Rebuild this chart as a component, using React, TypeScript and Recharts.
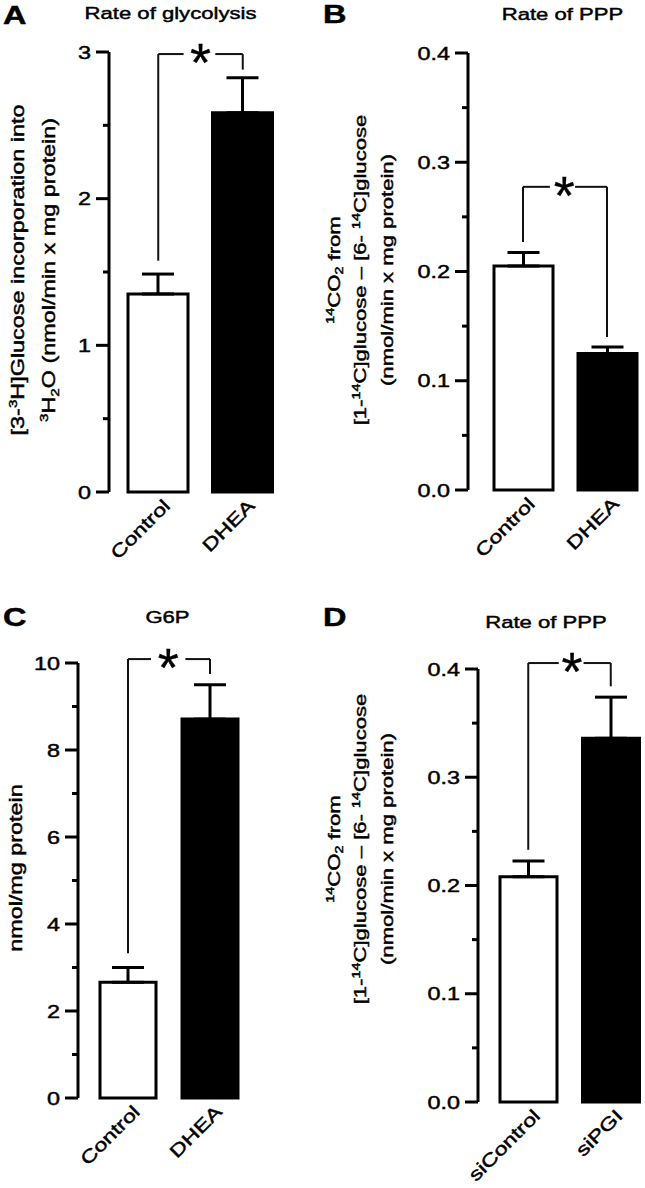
import React from "react";
import {
  BarChart,
  Bar,
  XAxis,
  YAxis,
  ErrorBar,
  Cell,
  ReferenceLine,
  ReferenceDot,
} from "recharts";

const FONT = '"Liberation Sans", Arial, Helvetica, sans-serif';
// the lettering in the figure is drawn wide, so every label is stretched along its line
const STRETCH = 1.3;

// A: rate of glycolysis
const groupsA = ["Control", "DHEA"];
const meansA = [1.35, 2.585];
const semA = [0.136, 0.24];
const majorsA = [0, 1, 2, 3];
const majorLabelsA = ["0", "1", "2", "3"];
const minorsA = [0.5, 1.5, 2.5];
const bracketA = [1.577, 2.986, 2.88]; // left foot, top, right foot
const gapA = [0.8, 1.175];
const starA = 1.0;

// B: rate of PPP (DHEA)
const groupsB = ["Control", "DHEA"];
const meansB = [0.205, 0.125];
const semB = [0.0125, 0.006];
const majorsB = [0, 0.1, 0.2, 0.3, 0.4];
const majorLabelsB = ["0.0", "0.1", "0.2", "0.3", "0.4"];
const minorsB = [0.05, 0.15, 0.25, 0.35];
const bracketB = [0.227, 0.2775, 0.14];
const gapB = [0.82, 1.12];
const starB = 0.99;

// C: G6P
const groupsC = ["Control", "DHEA"];
const meansC = [2.66, 8.71];
const semC = [0.34, 0.79];
const majorsC = [0, 2, 4, 6, 8, 10];
const majorLabelsC = ["0", "2", "4", "6", "8", "10"];
const minorsC = [1, 3, 5, 7, 9];
const bracketC = [3.33, 10.09, 9.75];
const gapC = [0.78, 1.2];
const starC = 0.99;

// D: rate of PPP (siRNA)
const groupsD = ["siControl", "siPGI"];
const meansD = [0.208, 0.336];
const semD = [0.0147, 0.038];
const majorsD = [0, 0.1, 0.2, 0.3, 0.4];
const majorLabelsD = ["0.0", "0.1", "0.2", "0.3", "0.4"];
const minorsD = [0.05, 0.15, 0.25, 0.35];
const bracketD = [0.233, 0.4055, 0.384];
const gapD = [0.87, 1.17];
const starD = 1.03;

const barFills = ["#ffffff", "#000000"];

type StretchTextProps = {
  x: number;
  y: number;
  rotate?: number;
  anchor?: "start" | "middle" | "end";
  size?: number;
  weight?: string;
  children: React.ReactNode;
};

function StretchText({ x, y, rotate = 0, anchor = "middle", size = 18, weight = "normal", children }: StretchTextProps) {
  return (
    <text
      transform={`translate(${x},${y}) rotate(${rotate}) scale(${STRETCH},1)`}
      textAnchor={anchor}
      fontSize={size}
      fontWeight={weight}
      fontFamily={FONT}
      fill="#000"
      stroke="#000"
      strokeWidth={0.45}
    >
      {children}
    </text>
  );
}

function makeYTick(majors: number[], labels: string[]) {
  return (props: any) => {
    const { x, y, payload } = props;
    const i = majors.indexOf(payload.value);
    const major = i >= 0;
    return (
      <g>
        <line x1={x} x2={x - (major ? 13 : 6)} y1={y} y2={y} stroke="#000" strokeWidth={3} />
        {major && (
          <StretchText x={x - 18} y={y + 6.5} anchor="end">
            {labels[i]}
          </StretchText>
        )}
      </g>
    );
  };
}

function XTick(props: any) {
  const { x, y, payload } = props;
  return (
    <StretchText x={x + 13} y={y + 15} rotate={-45} anchor="end">
      {payload.value}
    </StretchText>
  );
}

function Star(props: any) {
  return (
    <text
      x={props.cx}
      y={props.cy + 27}
      textAnchor="middle"
      fontSize={54}
      fontFamily={FONT}
      fill="#000"
      stroke="#000"
      strokeWidth={0.3}
    >
      *
    </text>
  );
}

type LabelLine = { x: number; node: React.ReactNode };

type PanelProps = {
  letter: string;
  title: string;
  titleX: number;
  titleY: number;
  letterY: number;
  groups: string[];
  means: number[];
  sem: number[];
  majors: number[];
  majorLabels: string[];
  minors: number[];
  yMax: number;
  bracket: number[];
  gap: number[];
  star: number;
  yLines: LabelLine[];
  yLabelY: number;
  yLabelSize: number;
  left: number;
  top: number;
  width: number;
  height: number;
  margin: { top: number; right: number; bottom: number; left: number };
  yAxisWidth: number;
  padLeft: number;
  barSize: number;
};

function Panel(p: PanelProps) {
  // slot = the bar's position on the linear twin axis (bar i is centred on i + 0.5)
  const data = p.groups.map((g, i) => ({ group: g, slot: i + 0.5, mean: p.means[i], err: [0, p.sem[i]] }));
  const ticks = [...p.majors, ...p.minors].sort((a, b) => a - b);
  const [footL, top, footR] = p.bracket;
  const line = { stroke: "#111", strokeWidth: 2, ifOverflow: "visible" as const, xAxisId: "n" };

  return (
    <div style={{ position: "absolute", left: p.left, top: p.top }}>
      <BarChart width={p.width} height={p.height} data={data} margin={p.margin} barSize={p.barSize}>
        <XAxis
          dataKey="group"
          axisLine={false}
          tickLine={false}
          tickSize={0}
          tickMargin={0}
          height={60}
          interval={0}
          padding={{ left: p.padLeft, right: 0 }}
          tick={<XTick />}
        />
        <XAxis
          xAxisId="n"
          dataKey="slot"
          type="number"
          scale="linear"
          domain={[0, 2]}
          allowDataOverflow
          hide
          padding={{ left: p.padLeft, right: 0 }}
        />
        <YAxis
          type="number"
          domain={[0, p.yMax]}
          ticks={ticks}
          interval={0}
          width={p.yAxisWidth}
          axisLine={{ stroke: "#000", strokeWidth: 3 }}
          tickLine={false}
          tickSize={0}
          tickMargin={0}
          tick={makeYTick(p.majors, p.majorLabels)}
        />
        <Bar dataKey="mean" stroke="#000" strokeWidth={3} isAnimationActive={false}>
          {data.map((d, i) => (
            <Cell key={d.group} fill={barFills[i]} />
          ))}
          <ErrorBar dataKey="err" direction="y" width={16} stroke="#000" strokeWidth={3} isAnimationActive={false} />
        </Bar>

        {/* significance bracket */}
        <ReferenceLine {...line} segment={[{ x: 0.5, y: footL }, { x: 0.5, y: top }]} />
        <ReferenceLine {...line} segment={[{ x: 0.5, y: top }, { x: p.gap[0], y: top }]} />
        <ReferenceLine {...line} segment={[{ x: p.gap[1], y: top }, { x: 1.5, y: top }]} />
        <ReferenceLine {...line} segment={[{ x: 1.5, y: top }, { x: 1.5, y: footR }]} />
        <ReferenceDot xAxisId="n" x={p.star} y={top} r={0} ifOverflow="visible" shape={Star} />

        <StretchText x={3} y={p.letterY} anchor="start" size={25} weight="bold">
          {p.letter}
        </StretchText>
        <StretchText x={p.titleX} y={p.titleY} size={17}>
          {p.title}
        </StretchText>
        {p.yLines.map((l, i) => (
          <StretchText key={i} x={l.x} y={p.yLabelY} rotate={-90} size={p.yLabelSize}>
            {l.node}
          </StretchText>
        ))}
      </BarChart>
    </div>
  );
}

const sup = (t: string, size: number) => (
  <tspan fontSize={size * 0.65} dy={-size * 0.38}>
    {t}
  </tspan>
);

function pppLines(size: number): LabelLine[] {
  const up = size * 0.38;
  return [
    {
      x: 20,
      node: (
        <>
          {sup("14", size)}
          <tspan dy={up}>CO</tspan>
          <tspan fontSize={size * 0.65} dy={size * 0.2}>
            2
          </tspan>
          <tspan dy={-size * 0.2}> from</tspan>
        </>
      ),
    },
    {
      x: 46,
      node: (
        <>
          [1-{sup("14", size)}
          <tspan dy={up}>C]glucose – [6- </tspan>
          {sup("14", size)}
          <tspan dy={up}>C]glucose</tspan>
        </>
      ),
    },
    { x: 73, node: "(nmol/min x mg protein)" },
  ];
}

const linesA: LabelLine[] = [
  {
    x: 24,
    node: (
      <>
        [3-{sup("3", 18)}
        <tspan dy={18 * 0.38}>H]Glucose incorporation into</tspan>
      </>
    ),
  },
  {
    x: 55,
    node: (
      <>
        {sup("3", 18)}
        <tspan dy={18 * 0.38}>H</tspan>
        <tspan fontSize={18 * 0.65} dy={18 * 0.2}>
          2
        </tspan>
        <tspan dy={-18 * 0.2}>O (nmol/min x mg protein)</tspan>
      </>
    ),
  },
];

export default function App() {
  return (
    <div
      style={{
        position: "absolute",
        left: 0,
        top: 0,
        width: 645,
        height: 1188,
        overflow: "hidden",
        background: "#fff",
      }}
    >
      <Panel
        letter="A"
        title="Rate of glycolysis"
        titleX={170.5}
        titleY={19}
        letterY={24}
        groups={groupsA}
        means={meansA}
        sem={semA}
        majors={majorsA}
        majorLabels={majorLabelsA}
        minors={minorsA}
        yMax={3}
        bracket={bracketA}
        gap={gapA}
        star={starA}
        yLines={linesA}
        yLabelY={270}
        yLabelSize={18}
        left={0}
        top={0}
        width={320}
        height={580}
        margin={{ top: 52, right: 35, bottom: 28, left: 0 }}
        yAxisWidth={109}
        padLeft={7}
        barSize={60}
      />
      <Panel
        letter="B"
        title="Rate of PPP"
        titleX={242.5}
        titleY={20}
        letterY={23}
        groups={groupsB}
        means={meansB}
        sem={semB}
        majors={majorsB}
        majorLabels={majorLabelsB}
        minors={minorsB}
        yMax={0.4}
        bracket={bracketB}
        gap={gapB}
        star={starB}
        yLines={pppLines(17)}
        yLabelY={270}
        yLabelSize={17}
        left={320}
        top={0}
        width={330}
        height={580}
        margin={{ top: 53, right: 1, bottom: 30, left: 0 }}
        yAxisWidth={148}
        padLeft={13}
        barSize={59}
      />
      <Panel
        letter="C"
        title="G6P"
        titleX={167.5}
        titleY={33}
        letterY={36}
        groups={groupsC}
        means={meansC}
        sem={semC}
        majors={majorsC}
        majorLabels={majorLabelsC}
        minors={minorsC}
        yMax={10}
        bracket={bracketC}
        gap={gapC}
        star={starC}
        yLines={[{ x: 22, node: "nmol/mg protein" }]}
        yLabelY={278}
        yLabelSize={18}
        left={0}
        top={590}
        width={320}
        height={598}
        margin={{ top: 73, right: 69, bottom: 30, left: 0 }}
        yAxisWidth={78}
        padLeft={9}
        barSize={56}
      />
      <Panel
        letter="D"
        title="Rate of PPP"
        titleX={226}
        titleY={38}
        letterY={36}
        groups={groupsD}
        means={meansD}
        sem={semD}
        majors={majorsD}
        majorLabels={majorLabelsD}
        minors={minorsD}
        yMax={0.4}
        bracket={bracketD}
        gap={gapD}
        star={starD}
        yLines={pppLines(17)}
        yLabelY={259}
        yLabelSize={17}
        left={320}
        top={590}
        width={332}
        height={598}
        margin={{ top: 79, right: 0, bottom: 26, left: 0 }}
        yAxisWidth={158}
        padLeft={9}
        barSize={57}
      />
    </div>
  );
}
